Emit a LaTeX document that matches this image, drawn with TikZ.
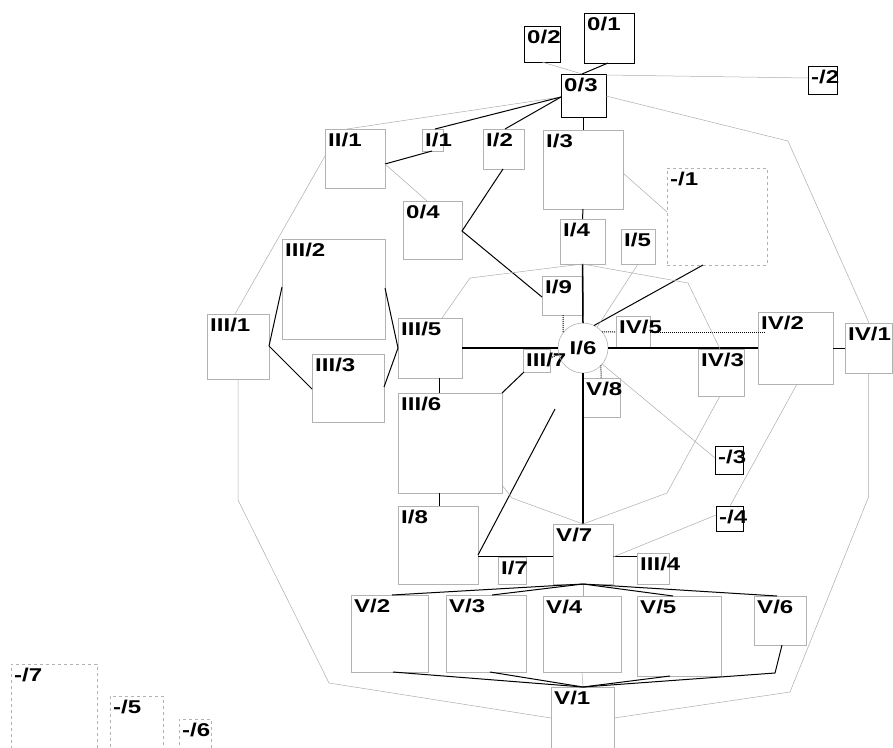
\documentclass[tikz,border=0pt]{standalone}
\usepackage{fontspec}
\setmainfont{Liberation Sans}
\newfontfamily\lblfont{Liberation Sans}[FakeStretch=1.3]
\usetikzlibrary{calc}
\tikzset{
 bxl/.style={draw=gray!60, line width=0.6pt, inner sep=0pt, outer sep=0pt, rectangle},
 bxd/.style={draw=black, line width=0.9pt, inner sep=0pt, outer sep=0pt, rectangle},
 bxdash/.style={draw=gray!60, line width=0.6pt, dashed, inner sep=0pt, outer sep=0pt, rectangle},
 lblf/.style={font=\lblfont\bfseries\fontsize{18.5}{18.5}\selectfont},
 lbl/.style={lblf, anchor=north west, inner sep=0pt},
 lt/.style={draw=gray!65, line width=0.5pt},
 dk/.style={draw=black, line width=1pt},
 tk/.style={draw=black, line width=1.5pt},
 dotl/.style={draw=black, line width=1pt, densely dotted},
}
\newcommand\mybox[7]{%
 \node[#1, anchor=north west, minimum width={(#5-#3)*1pt}, minimum height={(#6-#4)*1pt}] (#2) at (#3,#4) {};
 \node[lbl] (#2-l) at ([shift={(3,4)}]#2.north west) {#7};
}
\begin{document}
\begin{tikzpicture}[x=1pt,y=-1pt]
\useasboundingbox (0,0) rectangle (893,747);
\clip (0,0) rectangle (893,747);
% boxes
\mybox{bxd}{o1}{584}{13}{634}{63}{0/1}
\mybox{bxd}{o2}{524}{26}{560}{62}{0/2}
\mybox{bxd}{o3}{561}{74}{606}{117}{0/3}
\mybox{bxd}{m2}{808}{66}{837}{94}{-/2}
\mybox{bxl}{ii1}{325}{129}{385}{188}{II/1}
\mybox{bxl}{i1}{422}{129}{443}{151}{I/1}
\mybox{bxl}{i2}{483}{129}{524}{169}{I/2}
\mybox{bxl}{o4}{403}{201}{462}{259}{0/4}
\mybox{bxl}{i3}{543}{130}{623}{209}{I/3}
\mybox{bxdash}{m1}{667}{168}{767}{265}{-/1}
\mybox{bxl}{i4}{560}{219}{605}{264}{I/4}
\mybox{bxl}{i5}{621}{229}{655}{264}{I/5}
\mybox{bxl}{i9}{542}{276}{583}{315}{I/9}
\mybox{bxl}{iii2}{282}{239}{385}{339}{III/2}
\mybox{bxl}{iii1}{207}{314}{269}{379}{III/1}
\mybox{bxl}{iii3}{312}{354}{384}{422}{III/3}
\mybox{bxl}{iii5}{398}{318}{462}{378}{III/5}
\mybox{bxl}{iii6}{398}{393}{502}{493}{III/6}
\mybox{bxl}{iii7}{523}{349}{550}{372}{III/7}
\mybox{bxl}{iv5}{616}{316}{650}{348}{IV/5}
\mybox{bxl}{v8}{583}{378}{620}{417}{V/8}
\mybox{bxl}{iv3}{698}{349}{744}{396}{IV/3}
\mybox{bxl}{iv2}{758}{312}{833}{384}{IV/2}
\mybox{bxl}{iv1}{845}{323}{892}{373}{IV/1}
\mybox{bxd}{m3}{715}{446}{743}{474}{-/3}
\mybox{bxd}{m4}{716}{506}{743}{531}{-/4}
\mybox{bxl}{i8}{398}{506}{478}{584}{I/8}
\mybox{bxl}{i7}{498}{557}{526}{584}{I/7}
\mybox{bxl}{v7}{553}{524}{613}{584}{V/7}
\mybox{bxl}{iii4}{637}{553}{669}{584}{III/4}
\mybox{bxl}{v2}{351}{595}{428}{672}{V/2}
\mybox{bxl}{v3}{446}{595}{526}{672}{V/3}
\mybox{bxl}{v4}{543}{596}{621}{672}{V/4}
\mybox{bxl}{v5}{637}{596}{721}{676}{V/5}
\mybox{bxl}{v6}{754}{596}{806}{645}{V/6}
\mybox{bxl}{v1}{551}{687}{614}{752}{V/1}
\mybox{bxdash}{m7}{11}{664}{97}{752}{-/7}
\mybox{bxdash}{m5}{110}{696}{163}{752}{-/5}
\mybox{bxdash}{m6}{179}{719}{211}{752}{-/6}
\node[circle, draw=gray!60, line width=0.6pt, minimum size=50pt, inner sep=0pt, outer sep=0pt, lblf] (i6) at (583,348) {I/6};
% free coordinates
\coordinate (c1) at (788,141);
\coordinate (c2) at (555,409);
\coordinate (c3) at (775,673);
\coordinate (c4) at (238,500);
\coordinate (c5) at (329,683);
\coordinate (c6) at (790,692);
\coordinate (c7) at (868.5,497);
\coordinate (c8) at (470,278);
\coordinate (c9) at (688,283);
\coordinate (c10) at (667,493);
\coordinate (c11) at (512,498);
% top connectors
\draw[dk] ([shift={(24,50)}]o1.north west) -- ([shift={(21,0)}]o3.north west);
\draw[lt] ([shift={(18,36)}]o2.north west) -- ([shift={(21,0)}]o3.north west);
\draw[lt] ([shift={(45,1)}]o3.north west) -- ([shift={(0,12)}]m2.north west);
\draw[lt] ([shift={(45,22)}]o3.north west) -- (c1) -- ([shift={(24,0)}]iv1.north west);
\draw[lt] ([shift={(0,23)}]o3.north west) -- ([shift={(22,0)}]ii1.north west);
\draw[dk] ([shift={(0,23)}]o3.north west) -- ([shift={(13,0)}]i1.north west);
\draw[dk] ([shift={(0,23)}]o3.north west) -- ([shift={(22,0)}]i2.north west);
\draw[dk] (o3.south) -- (o3.south |- i3.north);
\draw[dk] ([shift={(10,22)}]i1.north west) -- ([shift={(60,35)}]ii1.north west);
\draw[lt] ([shift={(60,35)}]ii1.north west) -- ([shift={(24,0)}]o4.north west);
\draw[dk] ([shift={(20,40)}]i2.north west) -- ([shift={(59,30)}]o4.north west) -- ([shift={(0,21)}]i9.north west);
\draw[lt] ([shift={(0,27)}]ii1.north west) -- ([shift={(28,0)}]iii1.north west);
% III group
\draw[dk] ([shift={(62,32)}]iii1.north west) -- ([shift={(0,48)}]iii2.north west);
\draw[dk] ([shift={(62,32)}]iii1.north west) -- ([shift={(0,35)}]iii3.north west);
\draw[dk] ([shift={(103,49)}]iii2.north west) -- ([shift={(0,30)}]iii5.north west);
\draw[dk] ([shift={(72,33)}]iii3.north west) -- ([shift={(0,30)}]iii5.north west);
\draw[tk] (iii5.east) -- (i6.west);
\draw[dk] ([shift={(41,60)}]iii5.north west) -- ([shift={(41,0)}]iii6.north west);
\draw[dk] ([shift={(104,0)}]iii6.north west) -- ([shift={(1,23)}]iii7.north west);
\draw[dk] ([shift={(41,100)}]iii6.north west) -- ([shift={(41,0)}]i8.north west);
\draw[dk] ([shift={(80,50)}]i8.north west) -- ([shift={(0,32)}]v7.north west);
\draw[dk] ([shift={(80,49)}]i8.north west) -- (c2);
% central axis
\draw[dk] (i3.south) -- (i4.north);
\draw[tk] (i4.south) -- (i6.north);
\draw[tk] (v7.north) -- (i6.south);
\draw[tk] (i6.east) -- (iv2.west);
\draw[dk] (iv2.east) -- (iv1.west);
\draw[dotl] (i6.40) -- (iv5.west);
\draw[dotl] (iv5.east) -- ([xshift=7pt]iv5.east -| iv2.west);
\draw[dk] (i6.64) -- ([shift={(36,97)}]m1.north west);
\draw[lt] ([shift={(17,35)}]i5.north west) -- (i6.56);
\draw[dotl] ([shift={(21,39)}]i9.north west) -- (i6.143);
\draw[dotl] (i6.-44) -- ([shift={(18,0)}]v8.north west);
\draw[dotl] ([shift={(27,9)}]iii7.north west) -- (i6.195);
\draw[lt] (i6.-40) -- ([shift={(0,12)}]m3.north west);
\draw[lt] ([shift={(39,72)}]iv2.north west) -- ([shift={(14,0)}]m4.north west);
\draw[lt] ([shift={(80,43)}]i3.north west) -- ([shift={(0,44)}]m1.north west);
% V/7 group
\draw[dk] ([shift={(60,32)}]v7.north west) -- ([shift={(0,3)}]iii4.north west);
\draw[lt] ([shift={(60,33)}]v7.north west) -- ([shift={(0,9)}]m4.north west);
\draw[dk] (v7.south) -- ([shift={(41,0)}]v2.north west);
\draw[dk] (v7.south) -- ([shift={(46,0)}]v3.north west);
\draw[lt] (v7.south) -- (v7.south |- v4.north);
\draw[dk] (v7.south) -- ([shift={(36,0)}]v5.north west);
\draw[dk] (v7.south) -- ([shift={(23,0)}]v6.north west);
\draw[dk] ([shift={(42,77)}]v2.north west) -- ([shift={(32,0)}]v1.north west);
\draw[dk] ([shift={(44,77)}]v3.north west) -- ([shift={(32,0)}]v1.north west);
\draw[lt] (v4.south) -- ([shift={(32,0)}]v1.north west);
\draw[dk] ([shift={(33,80)}]v5.north west) -- ([shift={(32,0)}]v1.north west);
\draw[dk] ([shift={(28,49)}]v6.north west) -- (c3) -- ([shift={(32,0)}]v1.north west);
% outer ring
\draw[lt] (iii1.south) -- (c4) -- (c5) -- ([shift={(0,31)}]v1.north west);
\draw[lt] ([shift={(63,31)}]v1.north west) -- (c6) -- (c7) -- (iv1.south);
% inner ring
\draw[lt] ([shift={(44,0)}]iii5.north west) -- (c8) -- (i4.south) -- (c9) -- ([shift={(22,0)}]iv3.north west);
\draw[lt] ([shift={(22,47)}]iv3.north west) -- (c10) -- (v7.north);
\draw[lt] ([shift={(104,92)}]iii6.north west) -- (c11) -- (v7.north);
\end{tikzpicture}
\end{document}
